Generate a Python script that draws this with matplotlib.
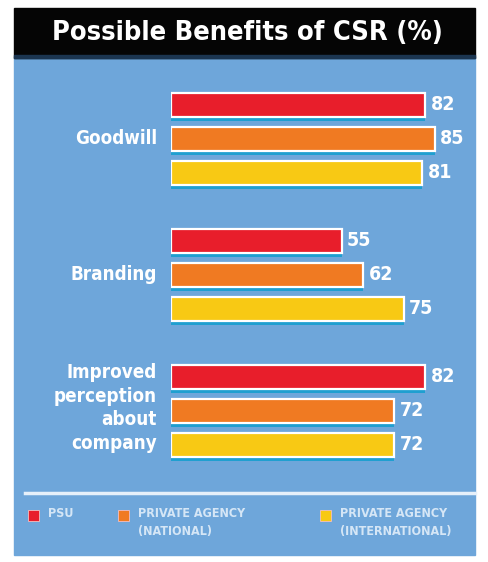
import matplotlib
matplotlib.use("Agg")
import matplotlib.pyplot as plt
from matplotlib.patches import Rectangle
import numpy as np

categories = ["Goodwill", "Branding", "Improved\nperception\nabout\ncompany"]
series_names = ["PSU", "PRIVATE AGENCY\n(NATIONAL)", "PRIVATE AGENCY\n(INTERNATIONAL)"]
psu = [82, 55, 82]
national = [85, 62, 72]
international = [81, 75, 72]
title = "Possible Benefits of CSR (%)"

colors = ["#e81e2b", "#f07a22", "#f8c914"]
bg_blue = "#6ea6da"
shadow = "#1f9fd0"

W, H = 489, 562
fig = plt.figure(figsize=(W / 100, H / 100), dpi=100)
fig.patch.set_facecolor("white")

def px(x0, y0, w, h):
    return [x0 / W, 1 - (y0 + h) / H, w / W, h / H]

# background panel
bg = fig.add_axes([0, 0, 1, 1])
bg.set_xlim(0, W); bg.set_ylim(H, 0); bg.axis("off")
bg.add_patch(Rectangle((14, 57), 461, 498, color=bg_blue, zorder=0))
bg.add_patch(Rectangle((14, 8), 461, 50, color="#050505", zorder=1))
bg.add_patch(Rectangle((14, 55), 461, 3, color="#1b3550", zorder=1))
bg.text(247, 33, title, color="white", fontsize=19.5, fontweight="bold",
        ha="center", va="center", family="DejaVu Sans", fontstretch="condensed", zorder=2)
bg.plot([25, 475], [493, 493], color="#e6f0fa", lw=2.5, zorder=2)

# legend
leg_x = [28, 118, 320]
for i, (name, c) in enumerate(zip(series_names, colors)):
    bg.add_patch(Rectangle((leg_x[i], 510), 11, 11, facecolor=c, edgecolor="#f4c0c0", lw=0.6, zorder=3))
    bg.text(leg_x[i] + 20, 507, name, color="#d5e6f6", fontsize=9, fontweight="bold",
            ha="left", va="top", family="DejaVu Sans", fontstretch="condensed",
            linespacing=1.45, zorder=3)

# bars
ax = fig.add_axes(px(171, 70, 304, 405))
ax.set_facecolor("none")
ax.axis("off")
scale = 3.1
ax.set_xlim(0, 304 / scale)
ax.set_ylim((475 - 139) / 136, (70 - 139) / 136)

y = np.arange(len(categories))
offsets = [-0.25, 0.0, 0.25]
bh = 0.172
data = [psu, national, international]
for s, (vals, c, off) in enumerate(zip(data, colors, offsets)):
    ax.barh(y + off + 0.03, vals, height=bh, color=shadow, zorder=1)
    ax.barh(y + off, vals, height=bh, color=c, edgecolor="white", linewidth=1.6, zorder=2)
    for yi, v in zip(y, vals):
        ax.text(v + 1.8, yi + off, str(v), color="white", fontsize=14, fontweight="bold",
                ha="left", va="center", family="DejaVu Sans", fontstretch="condensed", zorder=3)

label_y = [139, 275, 408]
for cat, ly in zip(categories, label_y):
    bg.text(157, ly, cat, color="white", fontsize=13.5, fontweight="bold", ha="right",
            va="center", family="DejaVu Sans", fontstretch="condensed", linespacing=1.3, zorder=3)

fig.savefig("out.png", dpi=100, facecolor=fig.get_facecolor())
